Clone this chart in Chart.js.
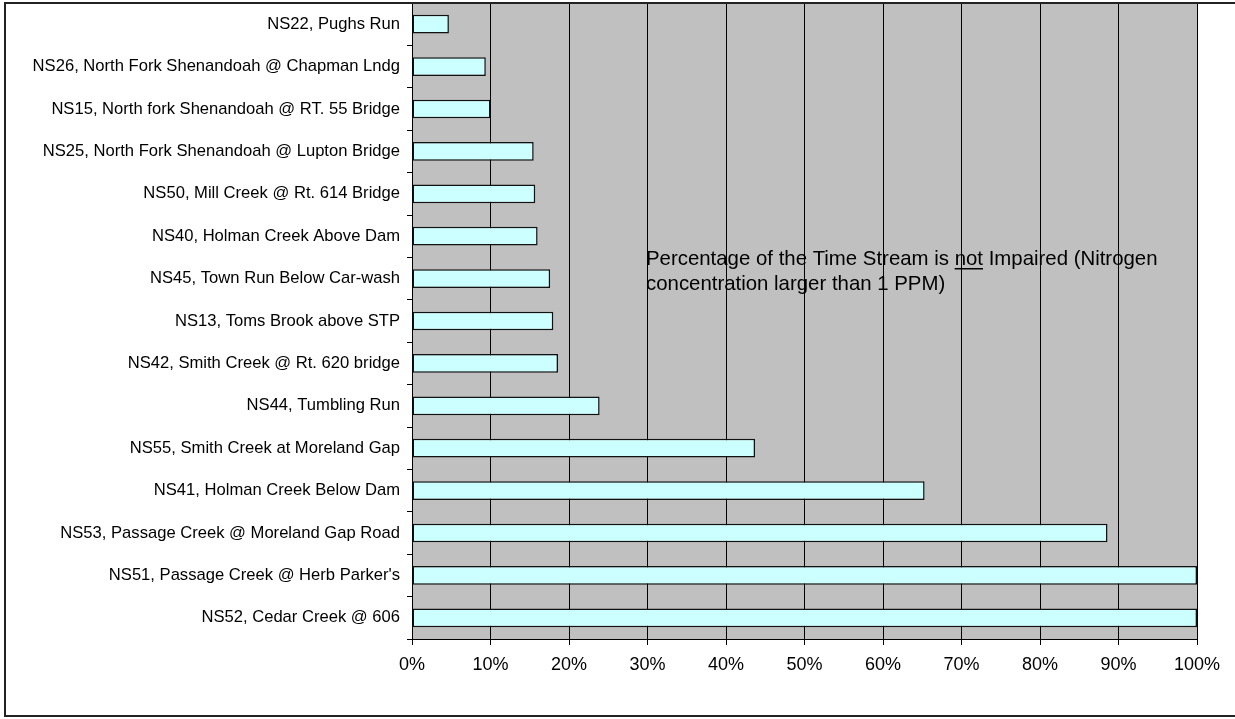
<!DOCTYPE html>
<html>
<head>
<meta charset="utf-8">
<style>
  html, body { margin: 0; padding: 0; background: #fff; }
  #wrap { position: relative; width: 1235px; height: 719px; }
</style>
<script src="https://cdn.jsdelivr.net/npm/chart.js@4/dist/chart.umd.min.js"></script>
</head>
<body>
<div id="wrap"><canvas id="chart" width="1235" height="719"></canvas></div>
<script>
// Sites, top to bottom
const sites = [
    'NS22, Pughs Run',
    'NS26, North Fork Shenandoah @ Chapman Lndg',
    'NS15, North fork Shenandoah @ RT. 55 Bridge',
    'NS25, North Fork Shenandoah @ Lupton Bridge',
    'NS50, Mill Creek @ Rt. 614 Bridge',
    'NS40, Holman Creek Above Dam',
    'NS45, Town Run Below Car-wash',
    'NS13, Toms Brook above STP',
    'NS42, Smith Creek @ Rt. 620 bridge',
    'NS44, Tumbling Run',
    'NS55, Smith Creek at Moreland Gap',
    'NS41, Holman Creek Below Dam',
    'NS53, Passage Creek @ Moreland Gap Road',
    "NS51, Passage Creek @ Herb Parker's",
    'NS52, Cedar Creek @ 606'
];

// Fraction of time not impaired
const notImpaired = [0.047, 0.094, 0.100, 0.155, 0.157, 0.160, 0.176, 0.180, 0.186,
    0.239, 0.437, 0.653, 0.886, 1.0, 1.0];

const tickMax = 1;
const tickStep = 0.1;

const noteLine1a = 'Percentage of the Time Stream is ';
const noteUnder = 'not';
const noteLine1b = ' Impaired (Nitrogen';
const noteLine2 = 'concentration larger than 1 PPM)';

const FONT = '"Liberation Sans", Arial, sans-serif';

// frame + grey plot background
const backdrop = {
    id: 'backdrop',
    beforeDraw(chart) {
        const ctx = chart.ctx;
        const a = chart.chartArea;
        ctx.save();
        ctx.fillStyle = '#fff';
        ctx.fillRect(0, 0, chart.width, chart.height);
        ctx.fillStyle = '#c0c0c0';
        ctx.fillRect(a.left, a.top, a.right - a.left, a.bottom - a.top);
        ctx.strokeStyle = '#808080';
        ctx.lineWidth = 1;
        ctx.beginPath();
        ctx.moveTo(a.right + 0.5, a.top);
        ctx.lineTo(a.right + 0.5, a.bottom);
        ctx.stroke();
        ctx.restore();
    },
    afterDraw(chart) {
        const ctx = chart.ctx;
        ctx.save();
        ctx.strokeStyle = '#222';
        ctx.lineWidth = 2;
        ctx.strokeRect(5, 3, chart.width + 10, 713);
        ctx.restore();
    }
};

// the free text note inside the plot
const note = {
    id: 'note',
    afterDatasetsDraw(chart) {
        const ctx = chart.ctx;
        const a = chart.chartArea;
        const x = a.left + 234;
        const y1 = 265, y2 = 290;
        ctx.save();
        ctx.font = '20.4px ' + FONT;
        ctx.fillStyle = '#000';
        ctx.textBaseline = 'alphabetic';
        ctx.fillText(noteLine1a, x, y1);
        const w1 = ctx.measureText(noteLine1a).width;
        const w2 = ctx.measureText(noteUnder).width;
        ctx.fillText(noteUnder, x + w1, y1);
        ctx.fillText(noteLine1b, x + w1 + w2, y1);
        ctx.fillRect(x + w1, y1 + 3, w2, 1.5);
        ctx.fillText(noteLine2, x, y2);
        ctx.restore();
    }
};

new Chart(document.getElementById('chart').getContext('2d'), {
    type: 'bar',
    data: {
        labels: sites,
        datasets: [{
            data: notImpaired,
            backgroundColor: '#ccffff',
            borderColor: '#111',
            borderWidth: 1.5,
            borderSkipped: false,
            barPercentage: 0.44,
            categoryPercentage: 1
        }]
    },
    options: {
        indexAxis: 'y',
        responsive: false,
        animation: false,
        layout: { padding: { top: 3, right: 38, left: 0, bottom: 0 } },
        plugins: { legend: { display: false }, tooltip: { enabled: false } },
        scales: {
            x: {
                min: 0,
                max: tickMax,
                afterFit(scale) {
                    scale.height = 80;
                    scale.paddingLeft = 0;
                    scale.paddingRight = 0;
                },
                border: { color: '#000', width: 1 },
                grid: { color: '#000', lineWidth: 1, tickLength: 6, tickColor: '#000' },
                ticks: {
                    stepSize: tickStep,
                    color: '#000',
                    padding: 9,
                    font: { family: FONT, size: 18 },
                    callback: v => Math.round(v * 100) + '%'
                }
            },
            y: {
                afterFit(scale) {
                    scale.width = 412;
                    scale.paddingTop = 0;
                    scale.paddingBottom = 0;
                },
                border: { color: '#000', width: 1 },
                grid: { drawOnChartArea: false, tickLength: 5, tickColor: '#000', offset: true },
                ticks: {
                    color: '#000',
                    padding: 7,
                    autoSkip: false,
                    font: { family: FONT, size: 16.6 }
                }
            }
        }
    },
    plugins: [backdrop, note]
});
</script>
</body>
</html>
